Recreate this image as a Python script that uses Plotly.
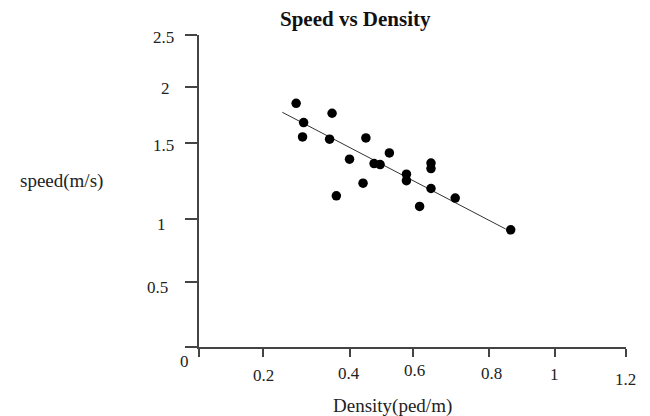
import plotly.graph_objects as go

# ---- data ----
density = [0.273, 0.374, 0.294, 0.291, 0.367, 0.469, 0.535, 0.423, 0.492, 0.509,
           0.652, 0.652, 0.583, 0.583, 0.461, 0.652, 0.386, 0.720, 0.620, 0.876]
speed = [1.953, 1.873, 1.798, 1.683, 1.665, 1.675, 1.555, 1.505, 1.470, 1.462,
         1.474, 1.430, 1.385, 1.333, 1.313, 1.270, 1.211, 1.193, 1.126, 0.939]

trend_x = [0.234, 0.862]
trend_y = [1.881, 0.945]

x_tick_labels = ["0", "0.2", "0.4", "0.6", "0.8", "1", "1.2"]
y_tick_labels = ["0", "0.5", "1", "1.5", "2", "2.5"]

title = "Speed vs Density"
x_title = "Density(ped/m)"
y_title = "speed(m/s)"

# ---- styling / layout (positions mimic the reference's irregular ticks) ----
X_TICK_AT = [0.0, 0.179, 0.425, 0.601, 0.816, 1.0, 1.2]
Y_TICK_AT = [0.0, 0.520, 1.025, 1.638, 2.086, 2.5]
X_LABEL_DX = [-15, 1, -1, 2, 2, 0, -1]
X_LABEL_DY = [-14, -28, -26, -23, -26, -27, -32]
Y_LABEL_DX = [-15, -29, -31, -23, -27, -23]
Y_LABEL_DY = [0, -5, -5, -3, -2, -2]

FONT = "Liberation Serif"
INK = "#222222"
AXIS = "#444444"

# plot-area geometry in pixels (used to place free text in paper units)
L, R, T, B = 199, 626, 35, 347
W, H = R - L, B - T


def px(x):
    return (x - L) / W


def py(y):
    return (B - y) / H


fig = go.Figure()
fig.add_trace(go.Scatter(x=trend_x, y=trend_y, mode="lines",
                         line=dict(color="#333333", width=1), hoverinfo="skip"))
fig.add_trace(go.Scatter(x=density, y=speed, mode="markers",
                         marker=dict(color="black", size=9.5, line=dict(width=0))))

annotations = []
for i, lab in enumerate(x_tick_labels):
    annotations.append(dict(text=lab, x=X_TICK_AT[i], xref="x", y=0, yref="paper",
                            xanchor="center", yanchor="middle", showarrow=False,
                            xshift=X_LABEL_DX[i], yshift=X_LABEL_DY[i],
                            font=dict(family=FONT, size=17, color=INK)))
for i, lab in enumerate(y_tick_labels):
    if lab == "0":
        continue
    annotations.append(dict(text=lab, x=0, xref="paper", y=Y_TICK_AT[i], yref="y",
                            xanchor="right", yanchor="middle", showarrow=False,
                            xshift=Y_LABEL_DX[i], yshift=Y_LABEL_DY[i],
                            font=dict(family=FONT, size=17, color=INK)))
annotations.append(dict(text="<b>" + title + "</b>", x=px(355.5), y=py(19),
                        xref="paper", yref="paper", showarrow=False,
                        xanchor="center", yanchor="middle",
                        font=dict(family=FONT, size=21, color="#111111")))
annotations.append(dict(text=x_title, x=px(392), y=py(406),
                        xref="paper", yref="paper", showarrow=False,
                        xanchor="center", yanchor="middle",
                        font=dict(family=FONT, size=19, color=INK)))
annotations.append(dict(text=y_title, x=px(61.5), y=py(181),
                        xref="paper", yref="paper", showarrow=False,
                        xanchor="center", yanchor="middle",
                        font=dict(family=FONT, size=19, color=INK)))

fig.update_layout(
    width=650, height=416, autosize=False,
    margin=dict(l=L, r=650 - R, t=T, b=416 - B, pad=0),
    paper_bgcolor="white", plot_bgcolor="white",
    showlegend=False,
    annotations=annotations,
)

fig.update_xaxes(range=[0, 1.2], showgrid=False, zeroline=False,
                 showline=True, linecolor=AXIS, linewidth=1.5,
                 ticks="outside", ticklen=8, tickwidth=1.5, tickcolor=AXIS,
                 tickvals=X_TICK_AT, showticklabels=False, fixedrange=True)
fig.update_yaxes(range=[0, 2.5], showgrid=False, zeroline=False,
                 showline=True, linecolor=AXIS, linewidth=1.5,
                 ticks="outside", ticklen=12, tickwidth=1.5, tickcolor=AXIS,
                 tickvals=Y_TICK_AT, showticklabels=False, fixedrange=True)

fig.write_html("out.html")
